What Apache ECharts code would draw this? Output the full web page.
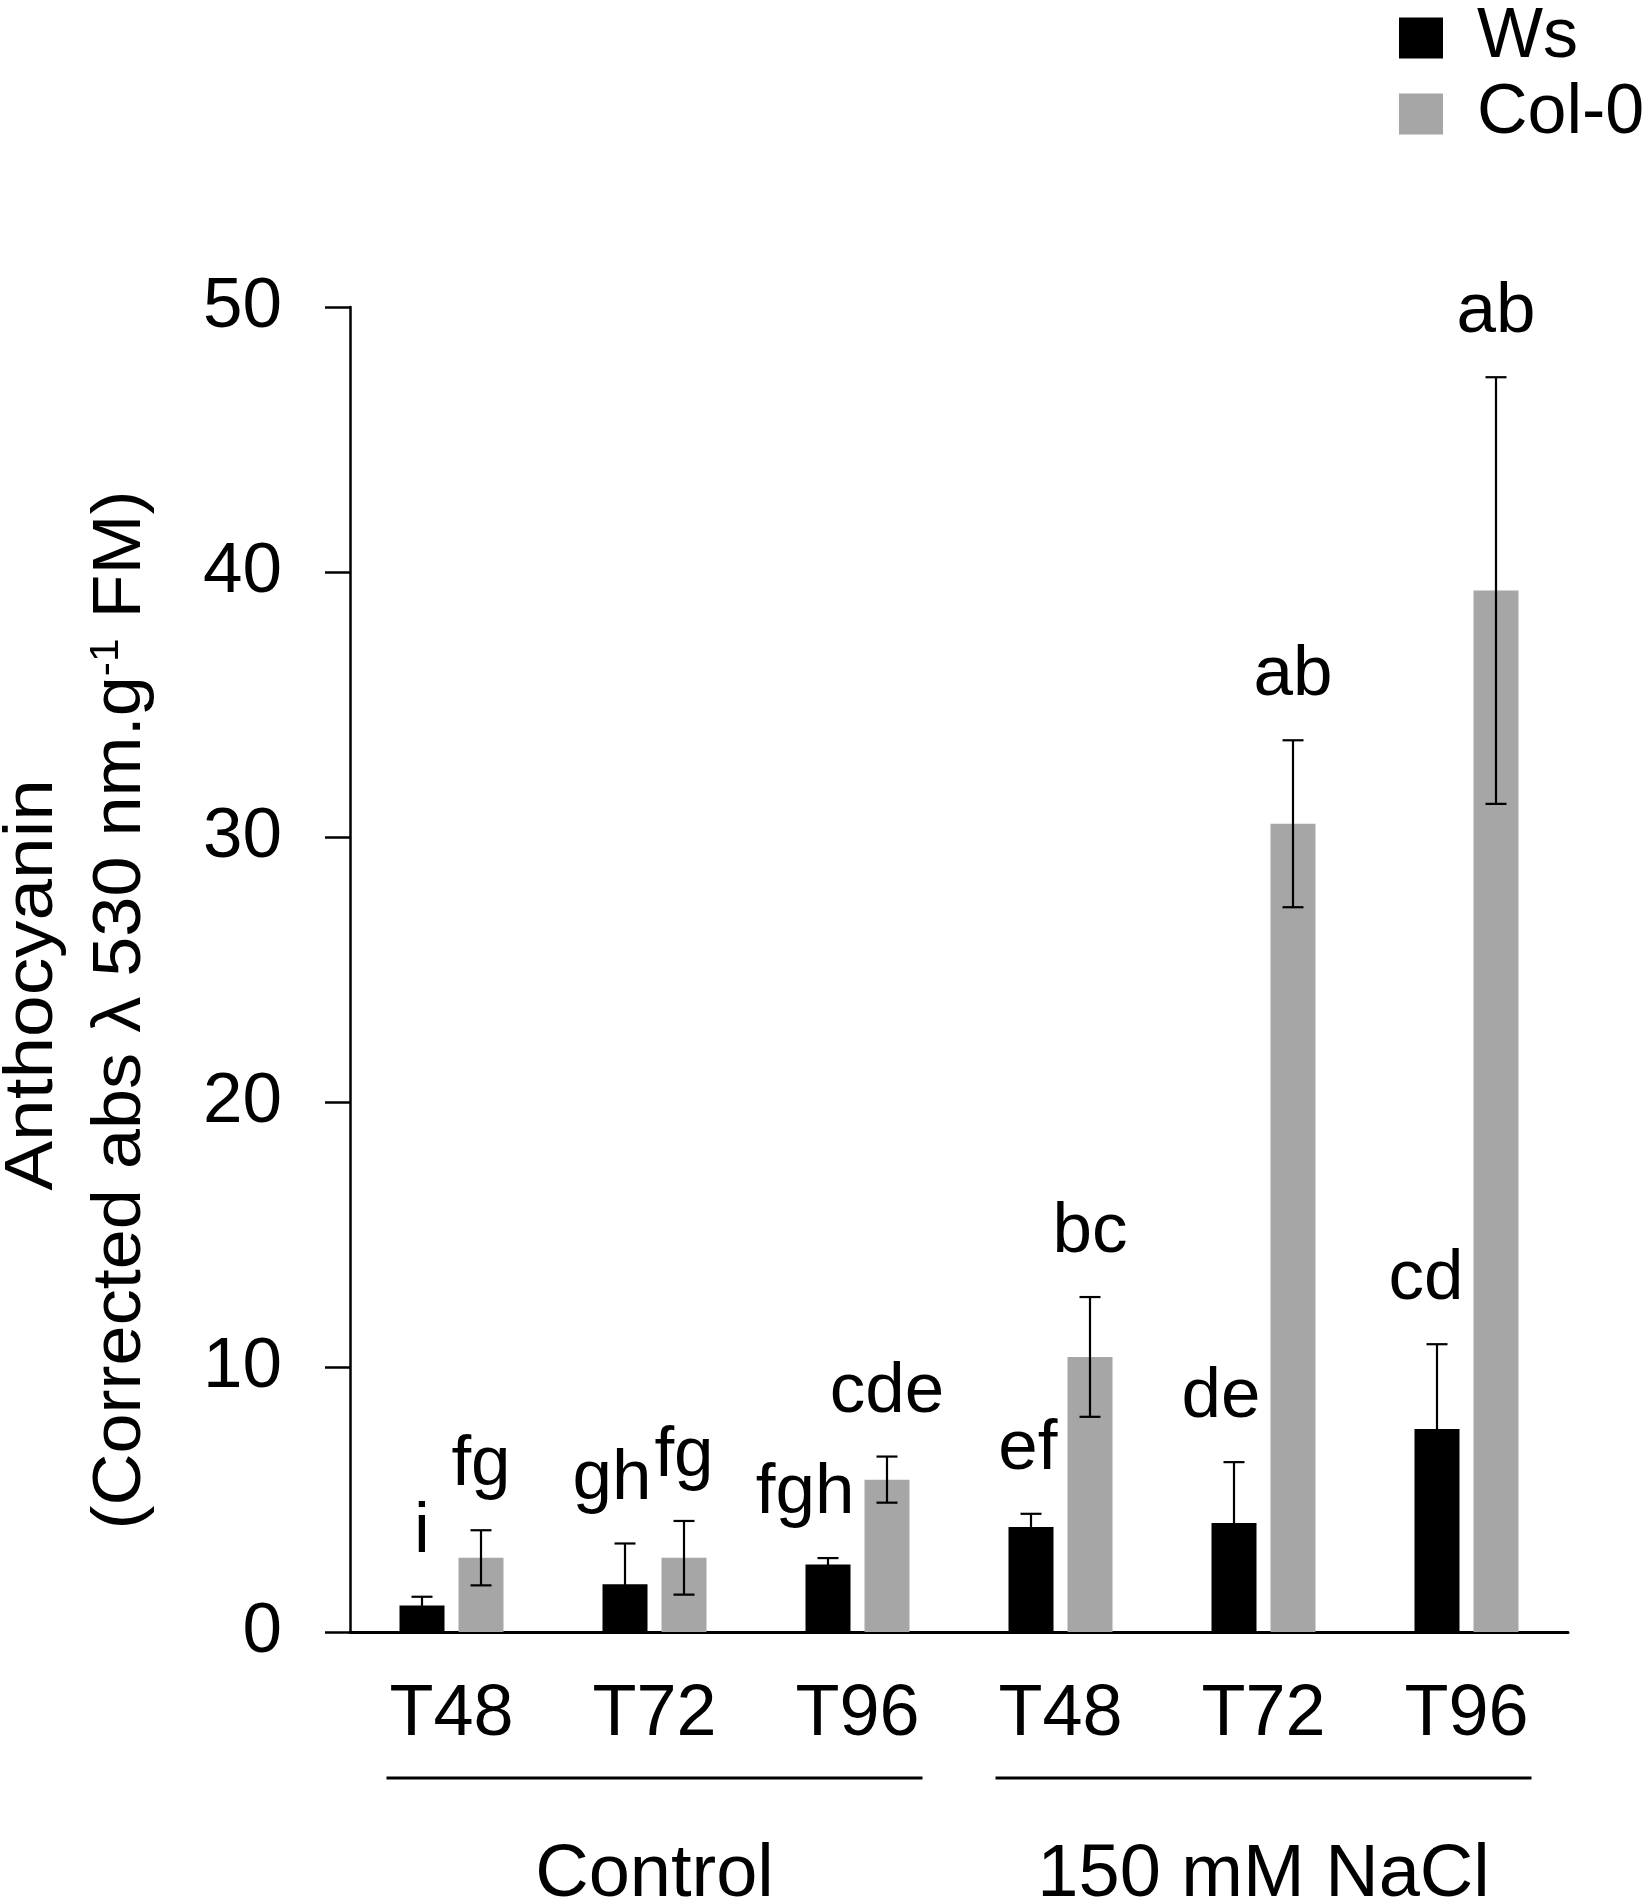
<!DOCTYPE html>
<html>
<head>
<meta charset="utf-8">
<title>Anthocyanin</title>
<script src="https://cdn.jsdelivr.net/npm/echarts@6/dist/echarts.min.js"></script>
<style>
  html, body { margin: 0; padding: 0; background: #fff; }
  #chart { width: 1650px; height: 1899px; }
</style>
</head>
<body>
<div id="chart"></div>
<script>
// data
var groups = ["Control", "150 mM NaCl"];
var times = ["T48", "T72", "T96"];
var yTicks = [0, 10, 20, 30, 40, 50];

var wsMean = [1.0, 1.8, 2.55, 3.96, 4.11, 7.66];
var wsErr = [0.33, 1.54, 0.24, 0.5, 2.3, 3.2];
var wsLetters = ["i", "gh", "fgh", "ef", "de", "cd"];

var colMean = [2.8, 2.8, 5.75, 10.38, 30.5, 39.3];
var colErr = [1.04, 1.39, 0.87, 2.26, 3.15, 8.05];
var colLetters = ["fg", "fg", "cde", "bc", "ab", "ab"];

var FONT = "Liberation Sans, Arial, sans-serif";
var BAR_W = 45;
var BAR_GAP = 14;
var OFFSET = (BAR_W + BAR_GAP) / 2;

// one category per group/time pair, label shows only the time
var categories = [];
groups.forEach(function (g) {
  times.forEach(function (t) {
    categories.push(g + "|" + t);
  });
});

function errData(mean, err) {
  return mean.map(function (m, i) {
    return [i, m, err[i]];
  });
}

// error bar + significance letter for one genotype
// wide Ws letters sit flush with the bar's right edge, the rest are centred
function errRenderer(letters, side, align) {
  return function (params, api) {
    var i = api.value(0);
    var mean = api.value(1);
    var e = api.value(2);
    var top = api.coord([i, mean + e]);
    var bot = api.coord([i, mean - e]);
    var x = top[0] + side * OFFSET;
    var cap = 10.5;
    var st = { stroke: "#000", lineWidth: 2.2 };
    var txt = letters[params.dataIndex];
    var a = align === "right" && txt.length > 1 ? "right" : "center";
    var tx = a === "right" ? x + BAR_W / 2 + 4 : x;
    return {
      type: "group",
      children: [
        { type: "line", shape: { x1: x, y1: top[1], x2: x, y2: bot[1] }, style: st },
        { type: "line", shape: { x1: x - cap, y1: top[1], x2: x + cap, y2: top[1] }, style: st },
        { type: "line", shape: { x1: x - cap, y1: bot[1], x2: x + cap, y2: bot[1] }, style: st },
        {
          type: "text",
          x: tx,
          y: top[1] - 29,
          style: {
            text: txt,
            font: "71px " + FONT,
            fill: "#000",
            align: a,
            verticalAlign: "bottom"
          }
        }
      ]
    };
  };
}

var chart = echarts.init(document.getElementById("chart"));

var option = {
  backgroundColor: "#fff",
  animation: false,
  textStyle: { fontFamily: FONT, color: "#000" },
  grid: {
    left: 350, right: 82, top: 307, bottom: 267,
    containLabel: false,
    outerBoundsMode: "none"
  },
  legend: {
    data: ["Ws", "Col-0"],
    orient: "vertical",
    left: 1394,
    top: -2,
    icon: "rect",
    itemWidth: 44,
    itemHeight: 41,
    itemGap: 6,
    textStyle: {
      fontSize: 70,
      color: "#000",
      fontFamily: FONT,
      padding: [0, 0, 0, 29]
    }
  },
  xAxis: [
    {
      type: "category",
      data: categories,
      boundaryGap: true,
      axisLine: { lineStyle: { color: "#000", width: 3 } },
      axisTick: { show: false },
      axisLabel: {
        fontSize: 72,
        color: "#000",
        fontFamily: FONT,
        margin: 47,
        formatter: function (v) { return v.split("|")[1]; }
      }
    },
    {
      type: "category",
      data: groups,
      position: "bottom",
      axisLine: { show: false },
      axisTick: { show: false },
      axisLabel: { fontSize: 74, color: "#000", fontFamily: FONT, margin: 207 }
    }
  ],
  yAxis: {
    type: "value",
    min: yTicks[0],
    max: yTicks[yTicks.length - 1],
    interval: yTicks[1] - yTicks[0],
    axisLine: { show: true, lineStyle: { color: "#000", width: 2.5 } },
    axisTick: { show: true, inside: false, length: 25, lineStyle: { color: "#000", width: 2.5 } },
    splitLine: { show: false },
    axisLabel: { fontSize: 71, color: "#000", fontFamily: FONT, margin: 68 }
  },
  series: [
    {
      name: "Ws",
      type: "bar",
      data: wsMean,
      barWidth: BAR_W,
      barGap: (BAR_GAP / BAR_W * 100).toFixed(1) + "%",
      itemStyle: { color: "#000" }
    },
    {
      name: "Col-0",
      type: "bar",
      data: colMean,
      barWidth: BAR_W,
      itemStyle: { color: "#a6a6a6" }
    },
    {
      type: "custom",
      renderItem: errRenderer(wsLetters, -1, "right"),
      data: errData(wsMean, wsErr),
      encode: { x: 0, y: 1 },
      z: 10
    },
    {
      type: "custom",
      renderItem: errRenderer(colLetters, 1, "center"),
      data: errData(colMean, colErr),
      encode: { x: 0, y: 1 },
      z: 10
    }
  ],
  graphic: [
    {
      type: "text",
      x: 33,
      y: 985,
      rotation: Math.PI / 2,
      scaleX: 1.1,
      style: {
        text: "Anthocyanin",
        font: "68px " + FONT,
        fill: "#000",
        align: "center",
        verticalAlign: "middle"
      }
    },
    {
      type: "text",
      x: 121,
      y: 1010,
      rotation: Math.PI / 2,
      scaleX: 1.06,
      style: {
        text: "{a|(Corrected abs \u03bb 530 nm.g}{s|-1}{a| FM)}",
        fill: "#000",
        align: "center",
        verticalAlign: "middle",
        rich: {
          a: { fontSize: 68, fontFamily: FONT, fill: "#000" },
          s: { fontSize: 40, fontFamily: FONT, fill: "#000", verticalAlign: "top" }
        }
      }
    }
  ]
};

chart.setOption(option);

// group brackets under the time labels
var baseY = chart.convertToPixel({ yAxisIndex: 0 }, 0);
var lines = groups.map(function (g, k) {
  var cx = chart.convertToPixel({ xAxisIndex: 1 }, g);
  return {
    type: "line",
    id: "bracket" + k,
    shape: { x1: cx - 268, y1: baseY + 146, x2: cx + 268, y2: baseY + 146 },
    style: { stroke: "#000", lineWidth: 3 }
  };
});
chart.setOption({ graphic: option.graphic.concat(lines) });
</script>
</body>
</html>
